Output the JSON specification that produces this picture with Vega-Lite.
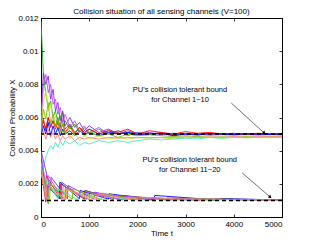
{
  "$schema": "https://vega.github.io/schema/vega-lite/v6.json",
  "width": 241,
  "height": 199,
  "autosize": {"type": "none"},
  "padding": {"left": 41, "top": 18, "right": 30, "bottom": 27},
  "background": "#ffffff",
  "title": {"text": "Collision situation of all sensing channels (V=100)", "font": "Liberation Sans", "fontSize": 8, "fontWeight": "normal", "color": "#000", "offset": -2},
  "config": {
    "view": {"stroke": "#000", "strokeWidth": 1},
    "axis": {"domainColor": "#000", "tickColor": "#000", "labelColor": "#000", "titleColor": "#000", "labelFont": "Liberation Sans", "titleFont": "Liberation Sans", "labelFontSize": 8, "titleFontSize": 8, "titleFontWeight": "normal", "grid": false, "tickSize": -3, "labelPadding": 6, "domainWidth": 1, "tickWidth": 0.8}
  },
  "datasets": {
    "ch": [
      {"c": "u1", "k": "c1", "t": [0,50,100,150,200,250,300,350,400,450,500,600,700,800,900,1000,1200,1400,1600,1800,2000,2250,2500,2750,3000,3250,3500,3750,4000,4250,4500,4750,5000], "y": [0.0118,0.0086,0.0074,0.0066,0.0070,0.0060,0.0064,0.0057,0.0061,0.0055,0.0058,0.0053,0.0056,0.0051,0.0054,0.0050,0.0053,0.0050,0.0052,0.0050,0.0051,0.0050,0.00505,0.0049,0.00505,0.0050,0.00498,0.00503,0.0050,0.00497,0.00502,0.0050,0.0050]},
      {"c": "u2", "k": "c2", "t": [0,50,100,150,200,250,300,350,400,450,500,600,700,800,900,1000,1200,1400,1600,1800,2000,2250,2500,2750,3000,3250,3500,3750,4000,4250,4500,4750,5000], "y": [0.0060,0.0087,0.0080,0.0085,0.0071,0.0077,0.0064,0.0069,0.0058,0.0063,0.0055,0.0060,0.0054,0.0057,0.0052,0.0055,0.0051,0.0053,0.0050,0.0052,0.0050,0.0051,0.00495,0.00505,0.0050,0.00495,0.00502,0.0050,0.00496,0.00502,0.0050,0.00497,0.0050]},
      {"c": "u3", "k": "c3", "t": [0,50,100,150,200,250,300,350,400,450,500,600,700,800,900,1000,1200,1400,1600,1800,2000,2250,2500,2750,3000,3250,3500,3750,4000,4250,4500,4750,5000], "y": [0.0055,0.0080,0.0086,0.0075,0.0080,0.0068,0.0071,0.0062,0.0066,0.0057,0.0062,0.0054,0.0058,0.0052,0.0055,0.0051,0.0054,0.0050,0.0052,0.0049,0.0051,0.0050,0.0051,0.00495,0.0050,0.00503,0.00495,0.0050,0.00502,0.00496,0.0050,0.00502,0.0050]},
      {"c": "u4", "k": "c4", "t": [0,50,100,150,200,250,300,350,400,450,500,600,700,800,900,1000,1200,1400,1600,1800,2000,2250,2500,2750,3000,3250,3500,3750,4000,4250,4500,4750,5000], "y": [0.0050,0.0070,0.0076,0.0064,0.0068,0.0058,0.0061,0.0052,0.0057,0.0049,0.0053,0.0047,0.0051,0.0046,0.0049,0.0047,0.0049,0.0047,0.0048,0.0047,0.0048,0.00475,0.0048,0.0047,0.00485,0.00478,0.0048,0.00476,0.00482,0.00478,0.0048,0.00478,0.0048]},
      {"c": "u5", "k": "c5", "t": [0,50,100,150,200,250,300,350,400,450,500,600,700,800,900,1000,1200,1400,1600,1800,2000,2250,2500,2750,3000,3250,3500,3750,4000,4250,4500,4750,5000], "y": [0.0025,0.0030,0.0036,0.0040,0.0043,0.0041,0.0045,0.0042,0.0046,0.0043,0.0046,0.0044,0.0046,0.0043,0.0045,0.0044,0.0046,0.0045,0.0046,0.0045,0.0046,0.0047,0.00465,0.0047,0.00475,0.0047,0.0048,0.00475,0.0048,0.00478,0.0048,0.00482,0.0048]},
      {"c": "u6", "k": "c6", "t": [0,50,100,150,200,250,300,350,400,450,500,600,700,800,900,1000,1200,1400,1600,1800,2000,2250,2500,2750,3000,3250,3500,3750,4000,4250,4500,4750,5000], "y": [0.0052,0.0058,0.0053,0.0060,0.0055,0.0058,0.0055,0.0060,0.0054,0.0064,0.0053,0.0056,0.0051,0.0054,0.0050,0.0053,0.0050,0.0052,0.0050,0.0051,0.00505,0.0050,0.00505,0.0050,0.00502,0.0050,0.00503,0.0050,0.00502,0.00498,0.0050,0.00502,0.0050]},
      {"c": "u7", "k": "c7", "t": [0,50,100,150,200,250,300,350,400,450,500,600,700,800,900,1000,1200,1400,1600,1800,2000,2250,2500,2750,3000,3250,3500,3750,4000,4250,4500,4750,5000], "y": [0.0053,0.0059,0.0052,0.0060,0.0054,0.0058,0.0053,0.0057,0.0052,0.0056,0.0051,0.0055,0.0050,0.0054,0.0051,0.0053,0.0050,0.0052,0.0051,0.0053,0.0050,0.0052,0.0051,0.0050,0.00515,0.00505,0.0051,0.0050,0.00505,0.0050,0.00505,0.0050,0.00503]},
      {"c": "u8", "k": "c8", "t": [0,50,100,150,200,250,300,350,400,450,500,600,700,800,900,1000,1200,1400,1600,1800,2000,2250,2500,2750,3000,3250,3500,3750,4000,4250,4500,4750,5000], "y": [0.0048,0.0055,0.0050,0.0057,0.0049,0.0055,0.0050,0.0054,0.0049,0.0053,0.0050,0.0052,0.0049,0.0052,0.0050,0.0051,0.0049,0.0051,0.0050,0.0051,0.00495,0.0050,0.00505,0.0049,0.0050,0.00495,0.00503,0.0050,0.00497,0.00502,0.0050,0.00498,0.0050]},
      {"c": "u9", "k": "c9", "t": [0,50,100,150,200,250,300,350,400,450,500,600,700,800,900,1000,1200,1400,1600,1800,2000,2250,2500,2750,3000,3250,3500,3750,4000,4250,4500,4750,5000], "y": [0.0052,0.0065,0.0059,0.0069,0.0056,0.0062,0.0054,0.0059,0.0051,0.0056,0.0050,0.0054,0.0049,0.0052,0.0049,0.0051,0.0049,0.0050,0.0048,0.0050,0.0049,0.00495,0.0049,0.00485,0.0049,0.00485,0.0049,0.00487,0.0049,0.00486,0.0049,0.00487,0.0049]},
      {"c": "u10", "k": "c10", "t": [0,50,100,150,200,250,300,350,400,450,500,600,700,800,900,1000,1200,1400,1600,1800,2000,2250,2500,2750,3000,3250,3500,3750,4000,4250,4500,4750,5000], "y": [0.0049,0.0052,0.0047,0.0053,0.0048,0.0051,0.0047,0.0050,0.0046,0.0049,0.0047,0.0049,0.0046,0.0048,0.0047,0.0048,0.0047,0.0048,0.00475,0.0048,0.00478,0.0048,0.00478,0.0048,0.00482,0.0048,0.00483,0.0048,0.00485,0.0048,0.00485,0.00483,0.00485]},
      {"c": "l1", "k": "c7", "t": [0,100,110,400,410,900,910,1500,1510,2300,2310,3300,3310,5000], "y": [0.0028,0.0009,0.0025,0.0011,0.0020,0.00108,0.0016,0.00105,0.0013,0.00102,0.00115,0.00101,0.00108,0.00101]},
      {"c": "l2", "k": "c1", "t": [0,150,160,500,510,1000,1010,1700,1710,2600,2610,3600,3610,5000], "y": [0.0030,0.0008,0.0021,0.00105,0.0018,0.00105,0.0015,0.00103,0.0013,0.00102,0.00115,0.00101,0.00108,0.00100]},
      {"c": "l3", "k": "c8", "t": [0,120,130,380,390,800,810,1400,1410,2350,2360,3700,3710,5000], "y": [0.0036,0.0010,0.0019,0.0011,0.0021,0.0011,0.0016,0.00108,0.0014,0.00104,0.0013,0.00102,0.00112,0.00102]},
      {"c": "l4", "k": "c6", "t": [0,130,140,420,430,900,910,1600,1610,2700,2710,5000], "y": [0.0034,0.0011,0.0019,0.0011,0.0021,0.0011,0.0016,0.00106,0.0013,0.00103,0.00114,0.00101]},
      {"c": "l5", "k": "c2", "t": [0,200,210,550,560,1100,1110,1900,1910,3100,3110,5000], "y": [0.0040,0.0016,0.0024,0.0011,0.0019,0.00108,0.0015,0.00104,0.0012,0.00102,0.0011,0.00101]},
      {"c": "l6", "k": "c4", "t": [0,160,170,480,490,1050,1060,1800,1810,2900,2910,5000], "y": [0.0026,0.0009,0.0018,0.00105,0.0017,0.00104,0.0014,0.00102,0.0012,0.00101,0.0011,0.00100]},
      {"c": "l7", "k": "c5", "t": [0,100,110,350,360,750,760,1300,1310,2200,2210,5000], "y": [0.0033,0.0012,0.0023,0.0011,0.0017,0.00105,0.0014,0.00103,0.0012,0.00101,0.0011,0.00101]},
      {"c": "l8", "k": "c9", "t": [0,180,190,650,660,1250,1260,2000,2010,3200,3210,5000], "y": [0.0029,0.0010,0.0020,0.00108,0.0017,0.00106,0.00145,0.00104,0.0012,0.00102,0.0011,0.00101]},
      {"c": "l9", "k": "c3", "t": [0,140,150,450,460,950,960,1700,1710,2800,2810,5000], "y": [0.0038,0.0012,0.0025,0.0011,0.0019,0.00106,0.0015,0.00103,0.00125,0.00101,0.0011,0.00100]},
      {"c": "l10", "k": "c10", "t": [0,110,120,520,530,1150,1160,2050,2060,3400,3410,5000], "y": [0.0031,0.0010,0.0020,0.00106,0.0017,0.00104,0.0014,0.00102,0.0012,0.00101,0.00108,0.00100]}
    ],
    "ref": [{"y": 0.005}, {"y": 0.001}],
    "ann": [
      {"t": 2884, "y": 0.00765, "s": "PU's collision tolerant bound"},
      {"t": 2884, "y": 0.00708, "s": "for Channel 1~10"},
      {"t": 3087, "y": 0.00343, "s": "PU's collision tolerant bound"},
      {"t": 3087, "y": 0.00286, "s": "for Channel 11~20"}
    ],
    "arr": [
      {"t1": 3948, "y1": 0.00687, "t2": 4633, "y2": 0.00506},
      {"t1": 4176, "y1": 0.00265, "t2": 4756, "y2": 0.0012}
    ]
  },
  "resolve": {"axis": {"x": "independent", "y": "independent"}},
  "layer": [
    {
      "data": {"name": "ch"},
      "transform": [{"flatten": ["t", "y"]}],
      "mark": {"type": "line", "strokeWidth": 0.9, "clip": true},
      "encoding": {
        "x": {"field": "t", "type": "quantitative", "scale": {"domain": [0, 5000], "nice": false}, "axis": {"orient": "bottom", "values": [0,1000,2000,3000,4000,5000], "format": "d", "title": "Time t", "titlePadding": 1}},
        "y": {"field": "y", "type": "quantitative", "scale": {"domain": [0, 0.012], "nice": false}, "axis": {"orient": "left", "values": [0,0.002,0.004,0.006,0.008,0.01,0.012], "format": "~g", "title": "Collision Probability X", "titleX": -25}},
        "color": {"field": "k", "type": "nominal", "legend": null, "scale": {"domain": ["c1","c2","c3","c4","c5","c6","c7","c8","c9","c10"], "range": ["#22aa22","#8a2be2","#c050f0","#c8e632","#40f0c0","#5a5a5a","#ff0000","#0000ff","#80c000","#ff8080"]}},
        "detail": {"field": "c", "type": "nominal"}
      }
    },
    {
      "data": {"name": "ref"},
      "mark": {"type": "rule", "color": "#000", "strokeWidth": 1.5, "strokeDash": [4, 3]},
      "encoding": {"y": {"field": "y", "type": "quantitative", "axis": null}}
    },
    {
      "data": {"name": "ann"},
      "mark": {"type": "text", "font": "Liberation Sans", "fontSize": 7.5, "align": "center", "baseline": "middle", "color": "#000"},
      "encoding": {
        "x": {"field": "t", "type": "quantitative", "axis": {"orient": "top", "values": [0,1000,2000,3000,4000,5000], "labels": false, "title": null}},
        "y": {"field": "y", "type": "quantitative", "axis": {"orient": "right", "values": [0,0.002,0.004,0.006,0.008,0.01,0.012], "labels": false, "title": null}},
        "text": {"field": "s"}
      }
    },
    {
      "data": {"name": "arr"},
      "mark": {"type": "rule", "color": "#333", "strokeWidth": 0.7},
      "encoding": {
        "x": {"field": "t1", "type": "quantitative", "axis": null},
        "y": {"field": "y1", "type": "quantitative", "axis": null},
        "x2": {"field": "t2"},
        "y2": {"field": "y2"}
      }
    },
    {
      "data": {"name": "arr"},
      "mark": {"type": "point", "shape": "triangle-up", "filled": true, "color": "#000", "size": 14, "angle": 131, "opacity": 1},
      "encoding": {
        "x": {"field": "t2", "type": "quantitative", "axis": null},
        "y": {"field": "y2", "type": "quantitative", "axis": null}
      }
    }
  ]
}
